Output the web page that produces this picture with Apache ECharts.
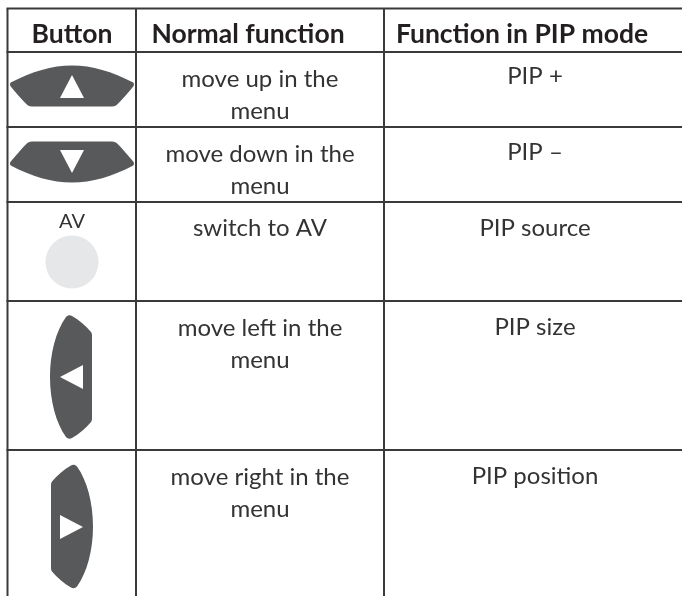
<!DOCTYPE html>
<html>
<head>
<meta charset="utf-8">
<style>
  html, body { margin: 0; padding: 0; background: #fff; }
  #main { width: 682px; height: 596px; }
</style>
<script src="https://cdn.jsdelivr.net/npm/echarts@6/dist/echarts.min.js"></script>
</head>
<body>
<div id="main"></div>
<script>
// table content
const headers = ['Button', 'Normal function', 'Function in PIP mode']
const buttonKinds = ['up', 'down', 'av', 'left', 'right']
const normalFunctions = [
  'move up in the\nmenu',
  'move down in the\nmenu',
  'switch to AV',
  'move left in the\nmenu',
  'move right in the\nmenu'
]
const pipFunctions = ['PIP +', 'PIP \u2013', 'PIP source', 'PIP size', 'PIP position']

// table rules, in axis units
const columnEdges = [7.5, 136, 384]
const rowEdges = [8.5, 52, 127, 202, 301, 450]

// 按钮外形
const wideTop = 'M1 17C22 6 42 0 62 0C82 0 102 6 123 17C124 18 124 20 123 21C118 27 112 34 107 39C106 40 104 41 102 41L22 41C20 41 18 40 17 39C12 34 6 27 1 21C0 20 0 18 1 17Z'
const wideBottom = 'M1 24C22 35 42 41 62 41C82 41 102 35 123 24C124 23 124 21 123 20C118 14 112 7 107 2C106 1 104 0 102 0L22 0C20 0 18 1 17 2C12 7 6 14 1 20C0 21 0 23 1 24Z'
const tallLeft = 'M16 2C18 0 20 0 22 1C29 5 36 11 41 17C42 18 42 20 42 22L42 102C42 104 42 106 41 107C36 113 29 119 22 123C20 124 18 124 16 122C6 108 0 86 0 62C0 38 6 16 16 2Z'
const tallRight = 'M26 2C24 0 22 0 20 1C13 5 6 11 1 17C0 18 0 20 0 22L0 102C0 104 0 106 1 107C6 113 13 119 20 123C22 124 24 124 26 122C36 108 42 86 42 62C42 38 36 16 26 2Z'
const arrowUp = 'M12 0L24 23L0 23Z'
const arrowDown = 'M0 0L24 0L12 23Z'
const arrowLeft = 'M0 12L23 0L23 24Z'
const arrowRight = 'M0 0L23 12L0 24Z'

const bodyBox = {
  up: [10, 65, 124, 42, wideTop],
  down: [10, 141, 124, 42, wideBottom],
  left: [50, 315, 42, 124, tallLeft],
  right: [51, 464, 42, 125, tallRight]
}
const arrowBox = {
  up: [60, 75, 24, 23, arrowUp],
  down: [60, 150, 24, 23, arrowDown],
  left: [60, 365, 23, 24, arrowLeft],
  right: [60, 515, 23, 24, arrowRight]
}

const chart = echarts.init(document.getElementById('main'), null, { renderer: 'canvas' })

const pathFrom = (api, box, color) => {
  const p = api.coord([box[0], box[1]])
  return {
    type: 'path',
    shape: { pathData: box[4], x: p[0], y: p[1], width: box[2], height: box[3] },
    style: { fill: color }
  }
}

const lineColor = '#3a3a3c'
const buttonColor = '#58595b'
const fontFamily = 'Lato, "Noto Sans", sans-serif'

// 网格线
const ruleData = []
columnEdges.forEach(x => ruleData.push([x, rowEdges[0], x, 596]))
rowEdges.forEach(y => ruleData.push([columnEdges[0] - 1, y, 682, y]))

// cell text: [x, y, text, weight]
const normalY = [95, 170, 228, 344, 493]
const pipY = [76, 152, 228, 327, 476]
const textData = []
const headerX = [72, 248, 522]
headers.forEach((t, i) => textData.push([headerX[i], 34, t, 'bold', 26.5, '#231f20']))
normalFunctions.forEach((t, i) => textData.push([260, normalY[i], t, 'normal', 24, '#333335']))
pipFunctions.forEach((t, i) => textData.push([535, pipY[i], t, 'normal', 24, '#333335']))
textData.push([72, 222, 'AV', 'normal', 20, '#333335'])

chart.setOption({
  animation: false,
  grid: { left: 0, right: 0, top: 0, bottom: 0 },
  xAxis: { type: 'value', min: 0, max: 682, show: false },
  yAxis: { type: 'value', min: 0, max: 596, inverse: true, show: false },
  series: [
    {
      type: 'custom',
      coordinateSystem: 'cartesian2d',
      silent: true,
      data: ruleData,
      renderItem: (params, api) => {
        const a = api.coord([api.value(0), api.value(1)])
        const b = api.coord([api.value(2), api.value(3)])
        return {
          type: 'line',
          shape: { x1: a[0], y1: a[1], x2: b[0], y2: b[1] },
          style: { stroke: lineColor, lineWidth: 2 }
        }
      }
    },
    {
      type: 'custom',
      coordinateSystem: 'cartesian2d',
      silent: true,
      data: buttonKinds.map((k, i) => [i]),
      renderItem: (params, api) => {
        const kind = buttonKinds[params.dataIndex]
        if (kind === 'av') {
          const c = api.coord([72, 262])
          return {
            type: 'circle',
            shape: { cx: c[0], cy: c[1], r: 26.5 },
            style: { fill: '#e6e7e8' }
          }
        }
        return {
          type: 'group',
          children: [
            pathFrom(api, bodyBox[kind], buttonColor),
            pathFrom(api, arrowBox[kind], '#ffffff')
          ]
        }
      }
    },
    {
      type: 'custom',
      coordinateSystem: 'cartesian2d',
      silent: true,
      data: textData.map(d => [d[0], d[1]]),
      renderItem: (params, api) => {
        const d = textData[params.dataIndex]
        const p = api.coord([d[0], d[1]])
        return {
          type: 'text',
          x: p[0],
          y: p[1],
          style: {
            text: d[2],
            fontFamily,
            fontWeight: d[3],
            fontSize: d[4],
            lineHeight: 32,
            fill: d[5],
            align: 'center',
            verticalAlign: 'middle'
          }
        }
      }
    }
  ]
})
</script>
</body>
</html>
